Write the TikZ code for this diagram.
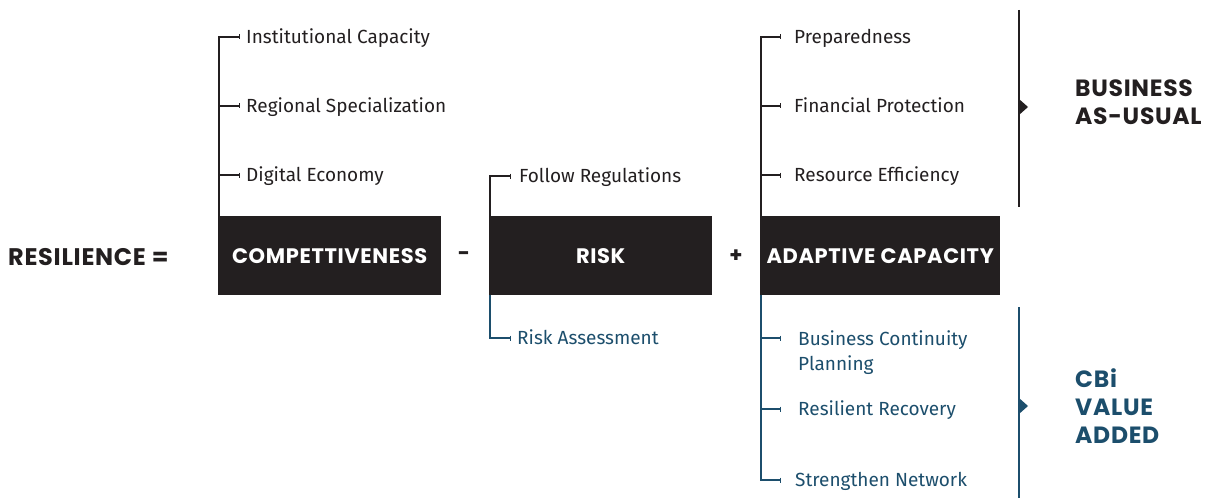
\documentclass[tikz,border=0pt]{standalone}
\usepackage{fontspec}
\setmainfont{Fira Sans}
\newfontfamily\bfam{Poppins}[LetterSpace=3]
\usetikzlibrary{arrows.meta}
\definecolor{dark}{HTML}{231F20}
\definecolor{blu}{HTML}{1C4E6C}
\tikzset{
  box/.style={fill=dark, text=white, minimum width=223pt, minimum height=79pt, inner sep=0pt, anchor=north west, font=\bfam\bfseries\fontsize{21}{22}\selectfont},
  lab/.style={anchor=west, inner sep=0pt, text height=13pt, text depth=0pt, font=\fontsize{19}{25}\selectfont, text=dark},
  blab/.style={lab, text=blu},
  op/.style={inner sep=0pt, font=\bfam\bfseries\fontsize{21}{22}\selectfont, text=dark},
  big/.style={anchor=west, inner sep=0pt, align=left, font=\bfam\bfseries\fontsize{23.5}{28}\selectfont},
  tick/.style={draw=dark, line width=1.2pt, -{Bar[width=5pt,line width=1pt]}},
  btick/.style={tick, draw=blu},
  br/.style={draw=dark, line width=1.6pt},
  bbr/.style={br, draw=blu},
}
\begin{document}
\begin{tikzpicture}[x=1pt,y=-1pt]
\useasboundingbox (0,0) rectangle (1207,500);
% main boxes
\node[box] (comp) at (218,216) {COMPETTIVENESS};
\node[box] (risk) at (489,216) {RISK};
\node[box, minimum width=240pt] (ac) at (760,216) {ADAPTIVE CAPACITY};
\node[op, anchor=west, font=\bfam\bfseries\fontsize{24}{25}\selectfont] (res) at (8,257) {RESILIENCE =};
\node[op] (minus) at (464,256) {-};
\node[op] (plus) at (736,256) {+};
% competitiveness tree
\node[lab] (ic) at (246,37) {Institutional Capacity};
\node[lab] (rs) at (246,106) {Regional Specialization};
\node[lab] (de) at (246,175) {Digital Economy};
\coordinate (ct) at ([xshift=1pt]comp.north west);
\draw[tick] (ct) |- ([xshift=-6pt]ic.west);
\draw[tick] (ct |- rs.west) -- ([xshift=-6pt]rs.west);
\draw[tick] (ct |- de.west) -- ([xshift=-6pt]de.west);
% risk tree
\node[lab] (fr) at (519,176) {Follow Regulations};
\node[blab] (ra) at (517,338) {Risk Assessment};
\coordinate (rt) at ([xshift=1pt]risk.north west);
\coordinate (rb) at ([xshift=1pt]risk.south west);
\draw[tick] (rt) |- ([xshift=-8pt]fr.west);
\draw[btick] (rb) |- ([xshift=-6pt]ra.west);
% adaptive tree
\node[lab] (pr) at (794,37) {Preparedness};
\node[lab] (fp) at (794,106) {Financial Protection};
\node[lab] (re) at (794,175) {Resource Efficiency};
\coordinate (at) at ([xshift=1pt]ac.north west);
\draw[tick] (at) |- ([xshift=-13pt]pr.west);
\draw[tick] (at |- fp.west) -- ([xshift=-13pt]fp.west);
\draw[tick] (at |- re.west) -- ([xshift=-13pt]re.west);
\node[blab, anchor=north west, text height=, text depth=, align=left] (bcp) at (798,330) {Business Continuity\\Planning};
\node[blab] (rr) at (798,409) {Resilient Recovery};
\node[blab] (sn) at (795,480) {Strengthen Network};
\coordinate (ab) at ([xshift=1pt]ac.south west);
\coordinate (bcpt) at ([shift={(-17pt,-8pt)}]bcp.north west);
\draw[btick] (ab |- bcpt) -- (bcpt);
\draw[btick] (ab |- rr.west) -- ([xshift=-17pt]rr.west);
\draw[btick] (ab) |- ([xshift=-14pt]sn.west);
% right brackets
\node[big, text=dark] (bau) at (1075,102) {BUSINESS\\AS-USUAL};
\coordinate (b1) at (1019,10);
\coordinate (b2) at (1019,207);
\coordinate (bm) at (1019,107);
\draw[br] (b1) -- (b2);
\fill[dark] ([yshift=8pt]bm) -- ([xshift=9pt]bm) -- ([yshift=-8pt]bm) -- cycle;
\node[big, text=blu] (cbi) at (1075,406) {CBi\\VALUE\\ADDED};
\coordinate (c1) at (1019,307);
\coordinate (c2) at (1019,498);
\coordinate (cm) at (1019,406);
\draw[bbr] (c1) -- (c2);
\fill[blu] ([yshift=8pt]cm) -- ([xshift=9pt]cm) -- ([yshift=-8pt]cm) -- cycle;
\end{tikzpicture}
\end{document}
